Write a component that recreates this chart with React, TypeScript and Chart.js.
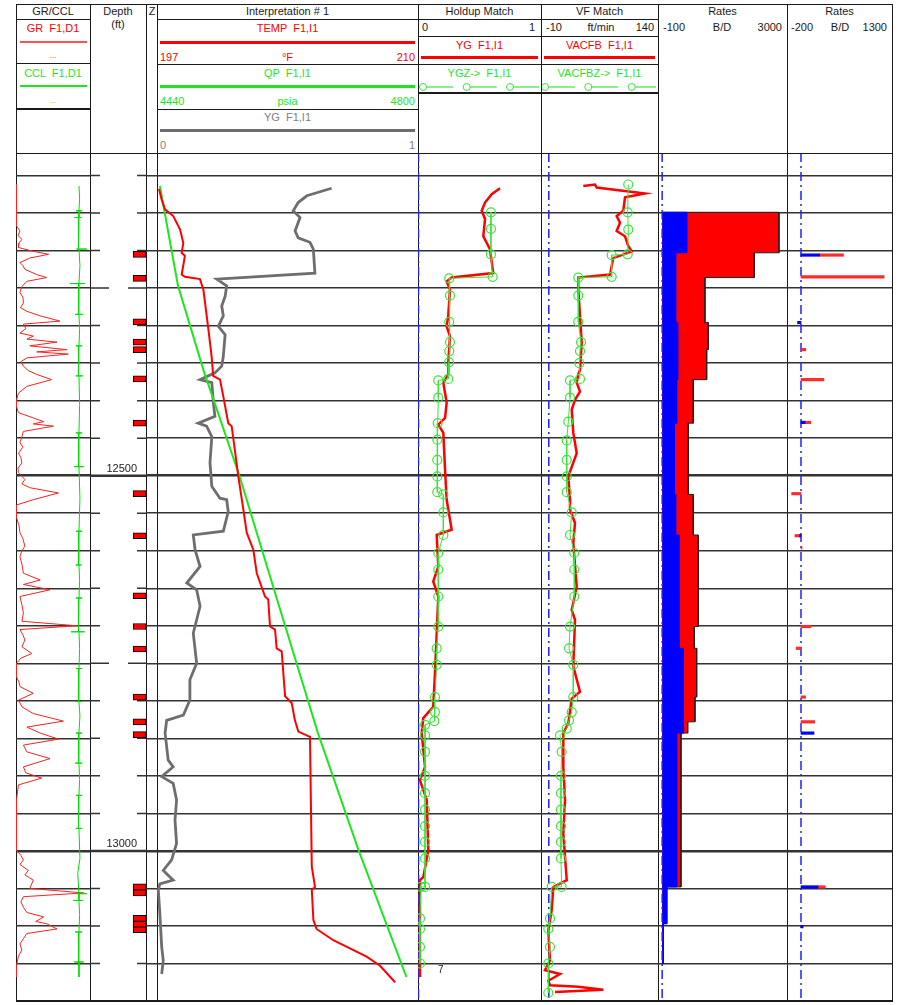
import React, { useEffect, useRef } from 'react';
import { Chart, registerables } from 'chart.js';

Chart.register(...registerables);
Chart.defaults.font.family = '"Liberation Sans", Arial, sans-serif';

// ---------------- depth window ----------------
const DEPTH_TOP = 12070;
const DEPTH_BOTTOM = 13200;
const DEPTH_STEP = 50;
const DEPTH_MID_STEP = 250;
const DEPTH_LABEL_STEP = 500;

// ---------------- curve scales ----------------
const GR_RANGE = [0, 150];
const CCL_RANGE = [-20, 3.5];
const TEMP_RANGE = [197, 210];
const QP_RANGE = [4440, 4800];
const YG_RANGE = [0, 1];
const VF_RANGE = [-10, 140];
const RATE_RANGE = [-100, 3000];
const ZONE_RANGE = [-200, 1300];
const PERF_RANGE = [-3.35, 1];

// ---------------- data: [depth ft, value] ----------------
const grCurve = [
  [12112, 1], [12167, 1], [12174, 8], [12180, 4], [12185, 12], [12190, 6], [12196, 5], [12201, 35], [12205, 66],
  [12210, 28], [12216, 8], [12220, 14], [12225, 18], [12232, 42], [12236, 62], [12241, 22], [12248, 12],
  [12256, 8], [12262, 14], [12270, 15], [12276, 9], [12281, 22], [12287, 49], [12294, 89], [12298, 15],
  [12304, 20], [12310, 8], [12314, 35], [12318, 22], [12322, 83], [12327, 28], [12332, 103], [12335, 42],
  [12338, 106], [12343, 22], [12348, 10], [12354, 15], [12360, 25], [12365, 42], [12372, 72], [12381, 22],
  [12390, 5], [12399, 1], [12408, 1], [12416, 5], [12423, 35], [12428, 56], [12431, 35], [12434, 76],
  [12441, 15], [12448, 12], [12456, 8], [12462, 14], [12470, 5], [12476, 10], [12483, 12], [12490, 4],
  [12496, 5], [12505, 18], [12511, 12], [12516, 28], [12523, 86], [12532, 35], [12539, 1], [12556, 1],
  [12566, 6], [12576, 8], [12584, 14], [12594, 18], [12600, 12], [12608, 8], [12618, 12], [12630, 15],
  [12639, 49], [12645, 15], [12652, 69], [12661, 8], [12672, 12], [12683, 15], [12694, 12], [12700, 123],
  [12705, 8], [12712, 14], [12719, 18], [12728, 12], [12737, 32], [12743, 10], [12750, 1], [12768, 1],
  [12775, 6], [12781, 8], [12790, 35], [12799, 5], [12808, 12], [12817, 35], [12827, 96], [12835, 22],
  [12843, 49], [12851, 86], [12859, 15], [12868, 22], [12877, 69], [12888, 15], [12896, 20], [12903, 52],
  [12912, 5], [12932, 1], [12999, 1], [13006, 10], [13012, 15], [13018, 8], [13026, 25], [13032, 18],
  [13039, 35], [13050, 28], [13056, 137], [13061, 15], [13068, 10], [13075, 15], [13082, 22], [13088, 56],
  [13094, 40], [13097, 62], [13104, 83], [13110, 22], [13117, 15], [13124, 8], [13132, 12], [13140, 5],
  [13153, 1], [13168, 1],
];

const cclCurve = [
  [12114, 0], [12130, 0.2], [12147, 0], [12147, -1], [12147, 1], [12147, 0],
  [12156, 0], [12156, -1.5], [12156, 0.8], [12156, 0], [12175, -0.3],
  [12198, 0], [12198, -0.8], [12198, 2.5], [12198, 0], [12220, 0.3],
  [12244, 0], [12244, -2.9], [12244, 1.9], [12244, 0], [12265, -0.2],
  [12285, 0], [12285, -1.2], [12285, 1.2], [12285, 0], [12305, 0.2],
  [12327, 0], [12327, -1], [12327, 1], [12327, 0], [12347, -0.3],
  [12367, 0], [12367, -1], [12367, 1.2], [12367, 0], [12405, 0.2],
  [12443, 0], [12443, -1], [12443, 1], [12443, 0], [12465, -0.2],
  [12488, 0], [12488, -1.5], [12488, 1.5], [12488, 0], [12530, 0.3],
  [12574, 0], [12574, -1], [12574, 1], [12574, 0], [12600, -0.2],
  [12619, 0], [12619, -1], [12619, 0.8], [12619, 0], [12640, 0.2],
  [12663, 0], [12663, -1], [12663, 1], [12663, 0], [12685, -0.3],
  [12708, 0], [12708, -2.5], [12708, 1.8], [12708, 0], [12730, 0.2],
  [12757, 0], [12757, -1], [12757, 1], [12757, 0], [12780, -0.2],
  [12801, 0], [12801, -1.2], [12801, 1], [12801, 0], [12820, 0.3],
  [12843, 0], [12843, -1], [12843, 1], [12843, 0], [12862, -0.2],
  [12883, 0], [12883, -1.2], [12883, 1], [12883, 0], [12905, 0.2],
  [12926, 0], [12926, -1], [12926, 1], [12926, 0], [12950, -0.3],
  [12970, 0], [12970, -1], [12970, 1], [12970, 0], [13010, 0.3], [13030, -0.4],
  [13057, 0], [13057, -1], [13057, 2.5], [13057, 0],
  [13066, 0], [13066, -1.8], [13066, 1.2], [13066, 0], [13085, 0.2],
  [13108, 0], [13108, -1.2], [13108, 1], [13108, 0], [13130, -0.2],
  [13148, 0], [13148, -1.5], [13148, 1.5], [13148, 0], [13168, 0],
];

const perfDepths = [
  12205, 12237, 12295, 12322, 12332, 12371, 12430, 12524, 12580, 12660,
  12701, 12731, 12795, 12828, 12845, 13048, 13056, 13090, 13098, 13105,
];

const tempCurve = [
  [12118, 197.1], [12132, 197.23], [12145, 197.4], [12154, 197.81], [12172, 198.15], [12190, 198.31],
  [12203, 198.23], [12207, 198.39], [12232, 198.23], [12235, 198.39], [12238, 199.14], [12252, 199.31],
  [12305, 199.56], [12341, 199.72], [12367, 199.8], [12372, 200.14], [12394, 200.3], [12430, 200.55],
  [12434, 200.72], [12501, 201.05], [12545, 201.3], [12576, 201.47], [12599, 201.8], [12630, 201.97],
  [12661, 202.38], [12665, 202.54], [12701, 202.63], [12705, 202.88], [12730, 202.96], [12734, 203.21],
  [12794, 203.38], [12803, 203.71], [12826, 203.87], [12841, 204.04], [12848, 204.62], [13021, 204.71],
  [13048, 204.87], [13052, 204.71], [13092, 204.79], [13104, 204.95], [13119, 205.78], [13141, 207.44],
  [13153, 208.11], [13175, 208.86],
];

const qpCurve = [
  [12114, 4444], [12247, 4469], [12359, 4504], [12501, 4554], [12701, 4617], [12843, 4662],
  [12999, 4718], [13168, 4784],
];

const interpYgCurve = [
  [12117, 0.669], [12123, 0.612], [12127, 0.574], [12136, 0.541], [12147, 0.522], [12156, 0.548],
  [12174, 0.529], [12183, 0.541], [12189, 0.586], [12198, 0.599], [12230, 0.605], [12238, 0.229],
  [12247, 0.267], [12261, 0.261], [12274, 0.248], [12287, 0.254], [12301, 0.235], [12312, 0.261],
  [12341, 0.254], [12354, 0.248], [12363, 0.222], [12372, 0.165], [12376, 0.21], [12403, 0.216],
  [12421, 0.222], [12430, 0.158], [12434, 0.19], [12448, 0.21], [12483, 0.203], [12514, 0.21],
  [12530, 0.241], [12532, 0.267], [12548, 0.273], [12574, 0.254], [12579, 0.139], [12599, 0.146],
  [12621, 0.165], [12643, 0.114], [12652, 0.152], [12674, 0.165], [12710, 0.139], [12750, 0.152],
  [12772, 0.126], [12799, 0.126], [12819, 0.101], [12826, 0.037], [12843, 0.031], [12879, 0.043],
  [12888, 0.062], [12901, 0.018], [12910, 0.062], [12932, 0.075], [12959, 0.069], [12990, 0.075],
  [13012, 0.056], [13026, 0.024], [13039, 0.062], [13044, 0.011], [13052, 0.005], [13084, 0.011],
  [13128, 0.018], [13146, 0.024], [13164, 0.018],
];

const holdupYgCurve = [
  [12117, 0.667], [12125, 0.599], [12136, 0.545], [12147, 0.518], [12158, 0.545], [12181, 0.531],
  [12198, 0.585], [12230, 0.612], [12236, 0.274], [12241, 0.233], [12252, 0.26], [12287, 0.246],
  [12301, 0.233], [12314, 0.26], [12350, 0.246], [12365, 0.246], [12376, 0.206], [12403, 0.233],
  [12423, 0.22], [12432, 0.165], [12443, 0.206], [12492, 0.22], [12532, 0.233], [12572, 0.274],
  [12579, 0.152], [12621, 0.165], [12641, 0.124], [12661, 0.165], [12710, 0.152], [12763, 0.138],
  [12808, 0.124], [12823, 0.043], [12843, 0.03], [12888, 0.057], [12906, 0.016], [12932, 0.071],
  [12999, 0.084], [13035, 0.043], [13039, 0.016], [13168, 0.016],
];

const holdupYgzStations = [
  [12149, 0.593], [12171, 0.593], [12205, 0.593], [12235, 0.607], [12237, 0.254], [12260, 0.26],
  [12295, 0.254], [12322, 0.26], [12334, 0.254], [12349, 0.252], [12371, 0.246], [12373, 0.165],
  [12396, 0.165], [12430, 0.16], [12452, 0.157], [12479, 0.157], [12501, 0.157], [12522, 0.157],
  [12525, 0.206], [12549, 0.206], [12579, 0.206], [12603, 0.165], [12625, 0.165], [12661, 0.165],
  [12701, 0.165], [12730, 0.152], [12752, 0.152], [12795, 0.138], [12815, 0.138], [12827, 0.133],
  [12832, 0.057], [12846, 0.057], [12868, 0.057], [12900, 0.057], [12923, 0.057], [12945, 0.057],
  [12967, 0.057], [12988, 0.057], [13010, 0.057], [13048, 0.057], [13048, 0.024], [13090, 0.016],
  [13104, 0.016], [13128, 0.016], [13150, 0.016],
];

const vfCurve = [
  [12114, 44.2], [12112, 59.2], [12116, 61.4], [12124, 123.3], [12129, 97.7], [12147, 95.5],
  [12154, 87], [12163, 91.3], [12174, 87], [12181, 97.7], [12194, 101.9], [12201, 106.3],
  [12210, 82.7], [12221, 80.6], [12232, 78.5], [12236, 37.8], [12252, 37.8], [12287, 40],
  [12323, 42.2], [12359, 40], [12365, 37.8], [12376, 35.8], [12388, 40], [12399, 33.6],
  [12412, 29.4], [12443, 31.4], [12470, 35.8], [12501, 25], [12532, 27.2], [12545, 27.2],
  [12563, 33.6], [12590, 31.4], [12648, 35.8], [12679, 29.4], [12692, 33.6], [12754, 31.4],
  [12788, 40], [12797, 29.4], [12830, 25], [12843, 18.6], [12888, 18.6], [12932, 20.8],
  [12977, 18.6], [13039, 23], [13048, 5.8], [13079, 3.7], [13106, -0.6], [13146, 1.5],
  [13159, -4.9], [13164, 14.4], [13173, -0.6], [13179, 1.5], [13181, 37.8], [13185, 69.9],
  [13188, 8],
];

const vfStations = [
  [12112, 101.9], [12149, 101.1], [12172, 101.9], [12205, 101.1], [12206, 80.6], [12235, 80.6],
  [12236, 37.8], [12260, 37.8], [12295, 37.8], [12322, 41.3], [12334, 40], [12350, 39.1],
  [12371, 40], [12373, 27.2], [12396, 27.2], [12428, 25], [12453, 23], [12479, 23], [12501, 23],
  [12522, 23], [12549, 29.4], [12579, 27.2], [12603, 32.7], [12625, 32.7], [12661, 32.7],
  [12701, 27.2], [12730, 25.9], [12752, 31.4], [12795, 31.4], [12815, 29.4], [12826, 25.9],
  [12837, 23], [12846, 14.4], [12868, 16.5], [12900, 15.6], [12923, 15.6], [12945, 15.6],
  [12967, 15.6], [12988, 15.6], [13010, 15.6], [13048, 16.5], [13048, 3.7], [13090, 1.5],
  [13104, -0.6], [13128, 1.5], [13150, -0.6], [13189, -0.6],
];

// production log rates per zone (B/D)
const zoneBoundaries = [
  12149, 12203, 12236, 12296, 12332, 12372, 12430, 12525, 12579, 12701, 12730, 12795, 12828,
  12843, 13048, 13097, 13150,
];
const rateTotal = [2808, 2214, 1029, 1109, 1070, 748, 628, 748, 868, 772, 830, 789, 614, 453, 109, 27];
const rateBlue = [590, 325, 325, 373, 373, 349, 292, 325, 405, 405, 508, 508, 508, 349, 109, 27];

// zone contributions (B/D)
const contribDepth = [12206, 12235, 12296, 12332, 12372, 12429, 12524, 12580, 12596, 12701, 12730, 12795, 12828, 12843, 13048, 13101];
const contribBlue = [267, 0, -49, 0, 0, 60, 0, -20, 0, 0, 0, 0, 0, 186, 243, 30];
const contribTotal = [607, 1187, -49, 69, 328, 140, -133, -87, 15, 140, -70, 65, 196, 186, 348, 30];

// ---------------- layout & styles ----------------
const PAGE_W = 901;
const PAGE_H = 1005;
const FRAME_TOP = 4;
const PLOT_TOP = 153;
const PLOT_BOTTOM = 1001;
const PLOT_H = PLOT_BOTTOM - PLOT_TOP;
const XB = { left: 16, depth: 90, z: 146, interp: 157, holdup: 418, vf: 541, rates: 658, zones: 787, right: 892 };

const FONT = '"Liberation Sans", Arial, sans-serif';
const INK = '#1a1a1a';
const GRID = '#333333';
const RED = '#ff0000';
const GREEN = '#1ee61e';
const GREEN_PT = '#3be33b';
const GRAY = '#6e6e6e';
const BLUE = '#2020ff';

const toPts = (curve) => curve.map(([d, v]) => ({ x: v, y: d }));

function depthAxis(extra = {}) {
  return {
    type: 'linear',
    reverse: true,
    min: DEPTH_TOP,
    max: DEPTH_BOTTOM,
    offset: false,
    ticks: { display: false, stepSize: DEPTH_STEP },
    grid: {
      drawTicks: false,
      offset: false,
      color: GRID,
      lineWidth: (c) => (c.tick && c.tick.value % DEPTH_LABEL_STEP === 0 ? 2.5 : 1.5),
    },
    border: { display: false },
    afterFit: (s) => {
      s.width = 0;
      s.paddingTop = 0;
      s.paddingBottom = 0;
      s.paddingLeft = 0;
      s.paddingRight = 0;
    },
    ...extra,
  };
}

const valueAxis = ([min, max]) => ({ type: 'linear', display: false, min, max });

function baseOptions(xScales, yAxis) {
  return {
    animation: false,
    responsive: false,
    maintainAspectRatio: false,
    indexAxis: 'y',
    events: [],
    layout: { padding: 0, autoPadding: false },
    plugins: { legend: { display: false }, tooltip: { enabled: false } },
    elements: { point: { radius: 0, hoverRadius: 0 }, line: { tension: 0 } },
    scales: { ...xScales, y: yAxis || depthAxis() },
  };
}

const zeroLine = (axisId, width = 1.5) => ({
  type: 'line',
  data: [{ x: 0, y: DEPTH_TOP }, { x: 0, y: DEPTH_BOTTOM }],
  xAxisID: axisId,
  borderColor: BLUE,
  borderWidth: width,
  borderDash: [9, 4, 2, 4],
  pointRadius: 0,
  fill: false,
});

const stationSet = (curve, axisId) => ({
  data: toPts(curve),
  xAxisID: axisId,
  borderColor: GREEN_PT,
  borderWidth: 1,
  pointRadius: 4.5,
  pointBorderColor: GREEN_PT,
  pointBorderWidth: 1.2,
  pointBackgroundColor: 'rgba(255,255,255,0)',
  fill: false,
});

function stepPoints(values) {
  const pts = [{ x: 0, y: zoneBoundaries[0] }];
  values.forEach((v, i) => {
    pts.push({ x: v, y: zoneBoundaries[i] });
    pts.push({ x: v, y: zoneBoundaries[i + 1] });
  });
  pts.push({ x: 0, y: zoneBoundaries[zoneBoundaries.length - 1] });
  return pts;
}

const depthTickPlugin = {
  id: 'depthTicks',
  beforeDatasetsDraw(chart) {
    const { ctx, chartArea, scales } = chart;
    const y = scales.y;
    ctx.save();
    ctx.strokeStyle = GRID;
    y.ticks.forEach((t) => {
      const v = t.value;
      if (v % DEPTH_STEP !== 0) return;
      const py = y.getPixelForValue(v);
      const major = v % DEPTH_LABEL_STEP === 0;
      const mid = v % DEPTH_MID_STEP === 0;
      ctx.lineWidth = major ? 2.5 : 1.5;
      ctx.beginPath();
      if (major) {
        ctx.moveTo(chartArea.left, py);
        ctx.lineTo(chartArea.right, py);
      } else {
        const l = mid ? 19 : 10;
        const r = mid ? 18 : 9;
        ctx.moveTo(chartArea.left, py);
        ctx.lineTo(chartArea.left + l, py);
        ctx.moveTo(chartArea.right - r, py);
        ctx.lineTo(chartArea.right, py);
      }
      ctx.stroke();
    });
    ctx.restore();
  },
};

// ---------------- chart configs ----------------
const makeGr = () => ({
  type: 'line',
  data: {
    datasets: [
      { data: toPts(cclCurve), xAxisID: 'xCCL', borderColor: '#00dd00', borderWidth: 1, pointRadius: 0 },
      { data: toPts(grCurve), xAxisID: 'xGR', borderColor: '#ff2020', borderWidth: 1, pointRadius: 0 },
    ],
  },
  options: baseOptions({ xGR: valueAxis(GR_RANGE), xCCL: valueAxis(CCL_RANGE) }),
});

const makeDepth = () => ({
  type: 'bar',
  data: {
    datasets: [
      {
        data: perfDepths.map((d) => ({ y: d, x: [0, 1] })),
        xAxisID: 'xP',
        backgroundColor: RED,
        borderColor: '#000',
        borderWidth: 1,
        borderSkipped: false,
        barThickness: 6,
        grouped: false,
      },
    ],
  },
  options: baseOptions(
    { xP: valueAxis(PERF_RANGE) },
    depthAxis({
      position: 'right',
      grid: { display: false, drawTicks: false, offset: false },
      ticks: {
        display: true,
        stepSize: DEPTH_STEP,
        autoSkip: false,
        mirror: true,
        padding: -9,
        labelOffset: -7,
        color: '#222',
        font: { size: 11, family: FONT },
        callback: (v) => (v % DEPTH_LABEL_STEP === 0 ? String(v) : ''),
      },
    })
  ),
  plugins: [depthTickPlugin],
});

const makeZ = () => ({
  type: 'line',
  data: { datasets: [] },
  options: baseOptions({}),
});

const makeInterp = () => ({
  type: 'line',
  data: {
    datasets: [
      { data: toPts(tempCurve), xAxisID: 'xT', borderColor: RED, borderWidth: 2, pointRadius: 0 },
      { data: toPts(qpCurve), xAxisID: 'xQ', borderColor: GREEN, borderWidth: 2, pointRadius: 0 },
      { data: toPts(interpYgCurve), xAxisID: 'xY', borderColor: GRAY, borderWidth: 2.8, pointRadius: 0 },
    ],
  },
  options: baseOptions({ xT: valueAxis(TEMP_RANGE), xQ: valueAxis(QP_RANGE), xY: valueAxis(YG_RANGE) }),
});

const makeHoldup = () => ({
  type: 'line',
  data: {
    datasets: [
      stationSet(holdupYgzStations, 'xH'),
      { data: toPts(holdupYgCurve), xAxisID: 'xH', borderColor: RED, borderWidth: 2.5, pointRadius: 0 },
      zeroLine('xH', 2.5),
    ],
  },
  options: baseOptions({ xH: valueAxis(YG_RANGE) }),
});

const makeVf = () => ({
  type: 'line',
  data: {
    datasets: [
      stationSet(vfStations, 'xV'),
      { data: toPts(vfCurve), xAxisID: 'xV', borderColor: RED, borderWidth: 2.5, pointRadius: 0 },
      zeroLine('xV'),
    ],
  },
  options: baseOptions({ xV: valueAxis(VF_RANGE) }),
});

const makeRates = () => ({
  type: 'line',
  data: {
    datasets: [
      zeroLine('xR'),
      { data: stepPoints(rateBlue), xAxisID: 'xR', borderColor: '#0000ff', backgroundColor: '#0000ff', borderWidth: 1, pointRadius: 0, fill: 'origin' },
      { data: stepPoints(rateTotal), xAxisID: 'xR', borderColor: '#222', backgroundColor: RED, borderWidth: 1, pointRadius: 0, fill: 'origin' },
    ],
  },
  options: baseOptions({ xR: valueAxis(RATE_RANGE) }),
});

const makeZones = () => {
  const blue = [];
  const red = [];
  contribDepth.forEach((d, i) => {
    if (contribBlue[i] !== 0) blue.push({ y: d, x: [0, contribBlue[i]] });
    if (contribTotal[i] !== contribBlue[i]) red.push({ y: d, x: [contribBlue[i], contribTotal[i]] });
  });
  return {
    type: 'bar',
    data: {
      datasets: [
        { data: blue, xAxisID: 'xZ', backgroundColor: '#0000ff', borderWidth: 0, barThickness: 2.5, grouped: false },
        { data: red, xAxisID: 'xZ', backgroundColor: '#ff2a2a', borderWidth: 0, barThickness: 2.5, grouped: false },
        zeroLine('xZ'),
      ],
    },
    options: baseOptions({ xZ: valueAxis(ZONE_RANGE) }),
  };
};

// ---------------- components ----------------
function TrackChart({ left, right, make }) {
  const ref = useRef(null);
  const width = right - left;
  useEffect(() => {
    const chart = new Chart(ref.current, make());
    return () => chart.destroy();
  }, []);
  return (
    <canvas
      ref={ref}
      width={width}
      height={PLOT_H}
      style={{ position: 'absolute', left, top: PLOT_TOP, width, height: PLOT_H, display: 'block' }}
    />
  );
}

function Txt({ x, y, w = 0, align = 'center', color = INK, size = 11, children }) {
  const style = {
    position: 'absolute',
    top: y,
    font: `${size}px ${FONT}`,
    lineHeight: '12px',
    color,
    whiteSpace: 'pre',
  };
  if (align === 'center') {
    style.left = x;
    style.width = w;
    style.textAlign = 'center';
  } else if (align === 'left') {
    style.left = x;
  } else {
    style.left = x - 100;
    style.width = 100;
    style.textAlign = 'right';
  }
  return <div style={style}>{children}</div>;
}

function HLine({ x1, x2, y, w = 1, color = INK }) {
  return <div style={{ position: 'absolute', left: x1, top: y - w / 2, width: x2 - x1, height: w, background: color }} />;
}

function VLine({ x, y1, y2, w = 1, color = INK }) {
  return <div style={{ position: 'absolute', left: x, top: y1, width: w, height: y2 - y1, background: color }} />;
}

function StationSymbol({ x1, x2, y, circles }) {
  const w = x2 - x1;
  return (
    <svg style={{ position: 'absolute', left: x1, top: y - 5 }} width={w} height={10}>
      {circles.map((cx, i) => (
        <g key={i}>
          <circle cx={cx - x1} cy={5} r={3.5} fill="none" stroke={GREEN_PT} strokeWidth={1} />
          <line x1={cx - x1 + 3.5} x2={Math.min(cx - x1 + 30, w)} y1={5} y2={5} stroke={GREEN_PT} strokeWidth={1.2} />
        </g>
      ))}
    </svg>
  );
}

export default function App() {
  const colL = XB.left, colD = XB.depth, colZ = XB.z, colI = XB.interp, colH = XB.holdup, colV = XB.vf, colR = XB.rates, colQ = XB.zones, colE = XB.right;
  return (
    <div style={{ position: 'absolute', left: 0, top: 0, width: PAGE_W, height: PAGE_H, background: '#fff', overflow: 'hidden', fontFamily: FONT }}>
      {/* track borders (below the plots so curves at the edge stay visible) */}
      {[colL, colD, colZ, colI, colH, colV, colR, colQ, colE].map((x, i) => (
        <VLine key={i} x={x} y1={FRAME_TOP} y2={PLOT_BOTTOM + 1} />
      ))}

      <TrackChart left={colL} right={colD} make={makeGr} />
      <TrackChart left={colD} right={colZ} make={makeDepth} />
      <TrackChart left={colZ} right={colI} make={makeZ} />
      <TrackChart left={colI} right={colH} make={makeInterp} />
      <TrackChart left={colH} right={colV} make={makeHoldup} />
      <TrackChart left={colV} right={colR} make={makeVf} />
      <TrackChart left={colR} right={colQ} make={makeRates} />
      <TrackChart left={colQ} right={colE} make={makeZones} />

      {/* frame */}
      <HLine x1={colL} x2={colE + 1} y={FRAME_TOP} />
      <HLine x1={colL} x2={colE + 1} y={PLOT_TOP} />
      <HLine x1={colL} x2={colE + 1} y={PLOT_BOTTOM} w={1.5} />

      {/* GR / CCL header */}
      <Txt x={colL} y={5} w={colD - colL}>GR/CCL</Txt>
      <HLine x1={colL} x2={colD} y={19} />
      <Txt x={colL} y={22} w={colD - colL} color={RED}>GR  F1,D1</Txt>
      <HLine x1={colL + 4} x2={colD - 3} y={42} w={1.5} color="#ff5050" />
      <Txt x={colL} y={50} w={colD - colL} color={RED} size={8}>...</Txt>
      <HLine x1={colL} x2={colD} y={63.5} />
      <Txt x={colL} y={67} w={colD - colL} color={GREEN}>CCL  F1,D1</Txt>
      <HLine x1={colL + 4} x2={colD - 3} y={86} w={1.5} color={GREEN} />
      <Txt x={colL} y={95} w={colD - colL} color={GREEN} size={8}>...</Txt>
      <HLine x1={colL} x2={colD} y={108.5} w={2} />

      {/* Depth / Z header */}
      <Txt x={colD} y={5} w={colZ - colD}>Depth</Txt>
      <Txt x={colD} y={18} w={colZ - colD}>(ft)</Txt>
      <Txt x={colZ} y={5} w={colI - colZ + 1}>Z</Txt>

      {/* Interpretation header */}
      <Txt x={colI} y={5} w={colH - colI}>Interpretation # 1</Txt>
      <HLine x1={colI} x2={colH} y={19} />
      <Txt x={colI} y={22} w={colH - colI} color={RED}>TEMP  F1,I1</Txt>
      <HLine x1={colI + 3} x2={colH - 3} y={42} w={3} color={RED} />
      <Txt x={colI + 3} y={51} align="left" color={RED}>{String(TEMP_RANGE[0])}</Txt>
      <Txt x={colI} y={51} w={colH - colI} color={RED}>°F</Txt>
      <Txt x={colH - 3} y={51} align="right" color={RED}>{String(TEMP_RANGE[1])}</Txt>
      <HLine x1={colI} x2={colH} y={64} />
      <Txt x={colI} y={67} w={colH - colI} color={GREEN}>QP  F1,I1</Txt>
      <HLine x1={colI + 3} x2={colH - 3} y={86} w={3} color={GREEN} />
      <Txt x={colI + 3} y={95} align="left" color={GREEN}>{String(QP_RANGE[0])}</Txt>
      <Txt x={colI} y={95} w={colH - colI} color={GREEN}>psia</Txt>
      <Txt x={colH - 3} y={95} align="right" color={GREEN}>{String(QP_RANGE[1])}</Txt>
      <HLine x1={colI} x2={colH} y={109} />
      <Txt x={colI} y={111} w={colH - colI} color="#808080">YG  F1,I1</Txt>
      <HLine x1={colI + 3} x2={colH - 3} y={130} w={3} color={GRAY} />
      <Txt x={colI + 3} y={139} align="left" color="#808080">{String(YG_RANGE[0])}</Txt>
      <Txt x={colH - 3} y={139} align="right" color="#808080">{String(YG_RANGE[1])}</Txt>

      {/* Holdup header */}
      <Txt x={colH} y={5} w={colV - colH}>Holdup Match</Txt>
      <HLine x1={colH} x2={colR} y={19} />
      <Txt x={colH + 4} y={21} align="left">{String(YG_RANGE[0])}</Txt>
      <Txt x={colV - 6} y={21} align="right">{String(YG_RANGE[1])}</Txt>
      <HLine x1={colH} x2={colR} y={36} />
      <Txt x={colH} y={39} w={colV - colH} color={RED}>YG  F1,I1</Txt>
      <HLine x1={colH + 3} x2={colV - 3} y={57} w={3} color={RED} />
      <HLine x1={colH} x2={colR} y={64} />
      <Txt x={colH} y={67} w={colV - colH} color={GREEN}>{'YGZ->  F1,I1'}</Txt>
      <StationSymbol x1={colH + 1} x2={colV - 2} y={86.5} circles={[423, 466.7, 510]} />
      <HLine x1={colH} x2={colR} y={93} w={2} />

      {/* VF header */}
      <Txt x={colV} y={5} w={colR - colV}>VF Match</Txt>
      <Txt x={colV + 5} y={21} align="left">{String(VF_RANGE[0])}</Txt>
      <Txt x={colV + 40} y={21} w={40}>ft/min</Txt>
      <Txt x={colR - 4} y={21} align="right">{String(VF_RANGE[1])}</Txt>
      <Txt x={colV} y={39} w={colR - colV} color={RED}>VACFB  F1,I1</Txt>
      <HLine x1={colV + 3} x2={colR - 3} y={57} w={3} color={RED} />
      <Txt x={colV} y={67} w={colR - colV} color={GREEN}>{'VACFBZ->  F1,I1'}</Txt>
      <StationSymbol x1={colV + 1} x2={colR - 2} y={86.5} circles={[545, 588.3, 631.7]} />

      {/* Rates headers */}
      <Txt x={colR} y={5} w={colQ - colR}>Rates</Txt>
      <Txt x={colR + 5} y={21} align="left">{String(RATE_RANGE[0])}</Txt>
      <Txt x={colR + 44} y={21} w={40}>B/D</Txt>
      <Txt x={colQ - 5} y={21} align="right">{String(RATE_RANGE[1])}</Txt>
      <Txt x={colQ} y={5} w={colE - colQ}>Rates</Txt>
      <Txt x={colQ + 4} y={21} align="left">{String(ZONE_RANGE[0])}</Txt>
      <Txt x={colQ + 33} y={21} w={40}>B/D</Txt>
      <Txt x={colE - 5} y={21} align="right">{String(ZONE_RANGE[1])}</Txt>

      {/* annotation */}
      <Txt x={438} y={964} align="left" size={10}>7</Txt>
    </div>
  );
}
